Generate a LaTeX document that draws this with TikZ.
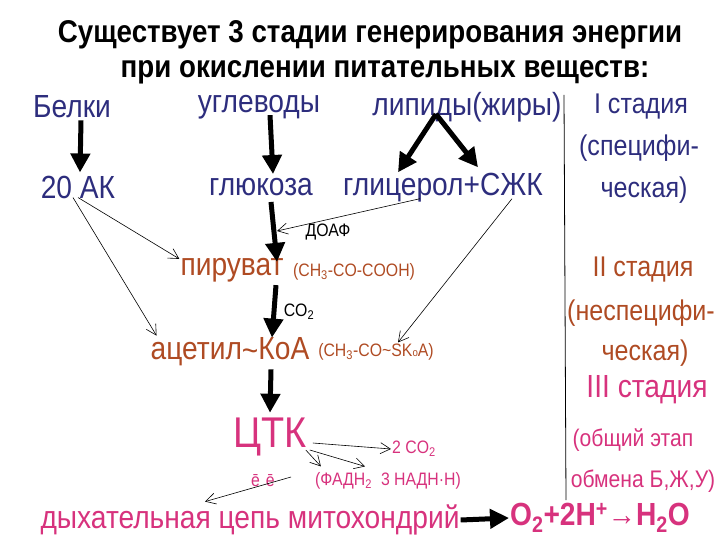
\documentclass[tikz,border=0pt]{standalone}
\usepackage{fontspec}
\setmainfont[FakeStretch=0.88]{Liberation Sans}
\usepackage{tikz}
\usetikzlibrary{arrows.meta}
\definecolor{stageone}{RGB}{45,45,125}
\definecolor{stagetwo}{RGB}{175,75,35}
\definecolor{stagethree}{RGB}{215,50,125}
\newcommand{\fs}[1]{\fontsize{#1}{#1}\selectfont}

\begin{document}
\begin{tikzpicture}[
    x=1pt, y=-1pt,
    title/.style={
        inner sep=1pt,
        font=\fs{31.5}\bfseries
    },
    one/.style={
        inner sep=1pt,
        text=stageone,
        font=\fs{32}
    },
    two/.style={
        inner sep=1pt,
        text=stagetwo,
        font=\fs{32}
    },
    three/.style={
        inner sep=1pt,
        text=stagethree,
        font=\fs{32}
    },
    side/.style={
        inner sep=1pt,
        font=\fs{28.5}
    },
    note/.style={
        inner sep=1pt,
        font=\fs{18}
    },
    arrow/.style={line width=5pt, -{Triangle[length=19pt,width=19pt]}},
    thin/.style={line width=0.6pt, -{Straight Barb[length=10pt,width=11pt]}}
]
\useasboundingbox (0,0) rectangle (720,540);

\node[title] (head1) at (370,35) {Существует 3 стадии генерирования энергии};
\node[title] (head2) at (385,72) {при окислении питательных веществ:};

% stage I
\node[one] (belki) at (72,107) {Белки};
\node[one] (uglev) at (259,107) {углеводы};
\node[one] (lipid) at (467,107) {липиды(жиры)};
\node[one] (ak) at (78,187) {20 АК};
\node[one] (gluk) at (261,187) {глюкоза};
\node[one] (glic) at (443,188) {глицерол+СЖК};
\node[side, text=stageone] (st1) at (641,107) {I стадия};
\node[side, text=stageone] (sp1) at (639,148) {(специфи-};
\node[side, text=stageone] (ch1) at (644,190) {ческая)};

% stage II
\node[note] (doaf) at (328,232) {ДОАФ};
\node[two] (piruv) at (232,270) {пируват};
\node[note, text=stagetwo] (pirf) at (354,272) {(CH\textsubscript{3}-CO-COOH)};
\node[note] (co2) at (299,312) {CO\textsubscript{2}};
\node[two] (acet) at (230,352) {ацетил\raisebox{-0.12ex}{\textasciitilde}КоА};
\node[note, text=stagetwo] (acf) at (376,352) {(CH\textsubscript{3}-CO\textasciitilde SK{\fs{11}o}A)};
\node[side, text=stagetwo] (st2) at (643,270) {II стадия};
\node[side, text=stagetwo] (sp2) at (641,313) {(неспецифи-};
\node[side, text=stagetwo] (ch2) at (645,353) {ческая)};

% stage III
\node[three, font=\fs{43}] (ctk) at (270,437) {ЦТК};
\node[note, text=stagethree] (co2b) at (414,449) {2 CO\textsubscript{2}};
\node[note, text=stagethree] (ee) at (263,481) {ē\,\,ē};
\node[note, text=stagethree] (fadn) at (388,481) {(ФАДН\textsubscript{2}\,\,\,3 НАДН·Н)};
\node[three] (dyh) at (250,520) {дыхательная цепь митохондрий};
\node[three, font=\fs{32}\bfseries] (water) at (600,518)
{O\textsubscript{2}+2H\textsuperscript{+}{\mdseries→}H\textsubscript{2}O};
\node[side, text=stagethree, font=\fs{32}] (st3) at (647,390) {III стадия};
\node[side, text=stagethree, font=\fs{24}] (ob1) at (633,440) {(общий этап};
\node[side, text=stagethree, font=\fs{24}] (ob2) at (643,481) {обмена Б,Ж,У)};

\coordinate (divtop) at (564,95);
\coordinate (divbot) at (566,500);
\draw[line width=0.8pt] (divtop) -- (divbot);

\draw[arrow] ([xshift=9pt,yshift=-1pt]belki.south) -- ([xshift=2pt,yshift=2pt]ak.north);
\draw[arrow] ([xshift=11pt,yshift=5pt]uglev.south) -- ([xshift=12pt,yshift=3pt]gluk.north);
\draw[arrow] ([xshift=-31pt,yshift=9pt]lipid.south) -- ([xshift=-45pt]glic.north);
\draw[arrow] ([xshift=-31pt,yshift=9pt]lipid.south) -- ([xshift=35pt,yshift=5pt]glic.north);
\draw[arrow] ([xshift=10pt,yshift=-5pt]gluk.south) -- ([xshift=45pt,yshift=-5pt]piruv.north);
\draw[arrow] ([xshift=44pt,yshift=-2pt]piruv.south) -- ([xshift=42pt,yshift=-1pt]acet.north);
\draw[arrow] ([xshift=41pt,yshift=-2pt]acet.south) -- ([yshift=4pt]ctk.north);
\draw[arrow] (dyh.east) -- (water.west);

\coordinate (doafpt) at (277,231);
\draw[thin] ([yshift=2pt]ak.south) -- ([yshift=-2pt]piruv.north west);
\draw[thin] ([xshift=-5pt,yshift=2pt]ak.south) -- ([xshift=7pt,yshift=1pt]acet.north west);
\draw[thin] ([xshift=-23pt,yshift=5pt]glic.south) -- (doafpt);
\draw[thin] ([xshift=69pt,yshift=5pt]glic.south) -- ([xshift=22pt]acf.north);
\draw[thin] ([xshift=5pt,yshift=-6pt]ctk.east) -- (co2b.west);
\draw[thin] ([xshift=-2pt,yshift=-13pt]ctk.east) -- ([xshift=7pt,yshift=5pt]fadn.north west);
\draw[thin] ([xshift=2pt,yshift=-13pt]ctk.east) -- ([xshift=-23pt,yshift=5pt]fadn.north);
\draw[thin] ([xshift=15pt,yshift=4pt]ee.east) -- ([xshift=-45pt,yshift=2pt]dyh.north);

\end{tikzpicture}
\end{document}
